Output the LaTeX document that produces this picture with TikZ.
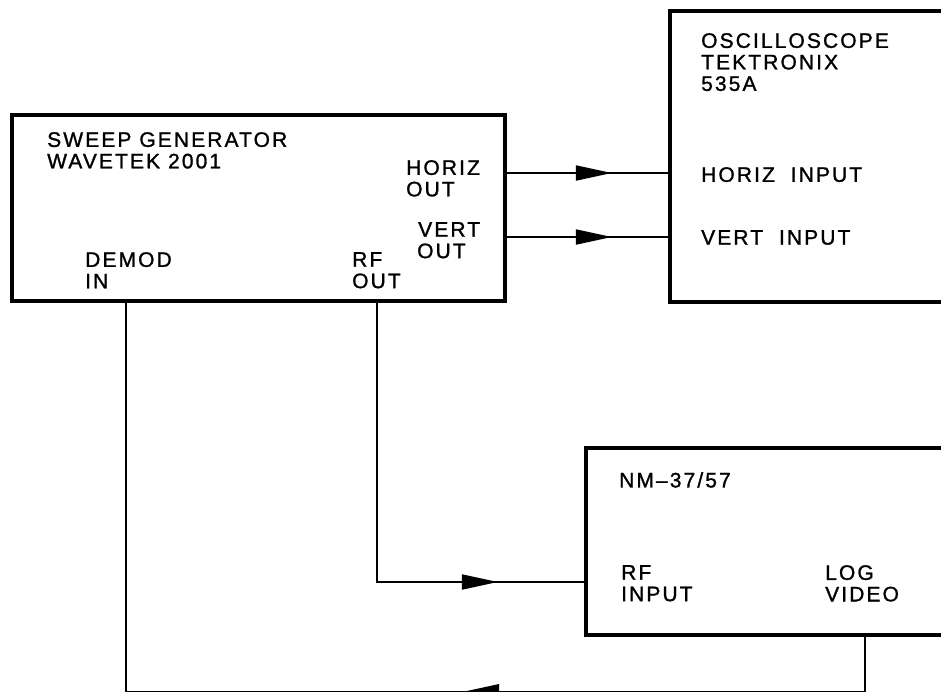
\documentclass[tikz,border=0pt]{standalone}
\usepackage{fontspec}
\setmainfont{Liberation Sans}
\newfontfamily\lblfont{Liberation Sans}[LetterSpace=10, FakeBold=1.2]
\usetikzlibrary{arrows.meta,decorations.markings}
\begin{document}
\begin{tikzpicture}[x=1pt,y=-1pt,
  box/.style={draw=black, line width=3.8pt, fill=none, inner sep=0pt, anchor=north west},
  lbl/.style={inner sep=0pt, anchor=north west, align=left,
    font=\lblfont\fontsize{21}{21.5}\selectfont},
  wire/.style={draw=black, line width=2pt},
  arrowat/.style={postaction={decorate}, decoration={markings,
    mark=at position #1 with {\arrow{Triangle[length=36pt,width=15pt]}}}}
]
\useasboundingbox (0,0) rectangle (941,691);
\fill[white] (0,0) rectangle (941,691);

% boxes
\node[box, minimum width=493pt, minimum height=186pt] (sweep) at (10,113) {};
\node[box, minimum width=320pt, minimum height=291pt] (osc) at (668,9) {};
\node[box, minimum width=400pt, minimum height=187pt] (nm) at (584,446) {};

% labels
\node[lbl] (tsweep) at (47,132) {SWEEP GENERATOR\\WAVETEK 2001};
\node[lbl] (thoriz) at (406,160) {HORIZ\\OUT};
\node[lbl] (tvert) at (417,222) {\hspace*{1pt}VERT\\OUT};
\node[lbl] (tdemod) at (85,252) {DEMOD\\IN};
\node[lbl] (trfout) at (352,252) {RF\\OUT};
\node[lbl] (tosc) at (701,33) {OSCILLOSCOPE\\TEKTRONIX\\535A};
\node[lbl] (thin) at (701,167) {HORIZ\ \ INPUT};
\node[lbl] (tvin) at (701,230) {VERT\ \ INPUT};
\node[lbl] (tnm) at (619,472) {NM–37/57};
\node[lbl] (trfin) at (621,565) {RF\\INPUT};
\node[lbl] (tlog) at (825,565) {LOG\\VIDEO};

% ports
\coordinate (horizout) at (sweep.east |- 0,173);
\coordinate (horizin) at (osc.west |- 0,173);
\coordinate (vertout) at (sweep.east |- 0,237);
\coordinate (vertin) at (osc.west |- 0,237);
\coordinate (rfout) at (377,0 |- sweep.south);
\coordinate (rfin) at (nm.west |- 0,582);
\coordinate (demodin) at (126,0 |- sweep.south);
\coordinate (logvideo) at (865,0 |- nm.south);

% connectors
\draw[wire, arrowat=105pt] (horizout) -- (horizin);
\draw[wire, arrowat=105pt] (vertout) -- (vertin);
\draw[wire, arrowat=400pt] (rfout) |- (rfin);
\draw[wire, arrowat=457pt] (logvideo) -- ++(0,55) -| (demodin);
\end{tikzpicture}
\end{document}
